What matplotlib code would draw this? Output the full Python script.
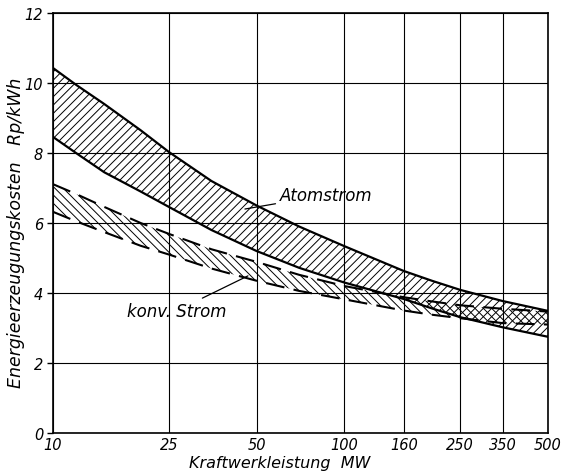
import numpy as np
import matplotlib
matplotlib.use('Agg')
import matplotlib.pyplot as plt

# Kraftwerkleistung in MW und Energieerzeugungskosten in Rp/kWh
leistung = [10, 12, 15, 20, 25, 35, 50, 70, 100, 160, 200, 250, 350, 500]
atom_oben = [10.43, 9.95, 9.4, 8.65, 8.03, 7.2, 6.5, 5.9, 5.34, 4.63, 4.35, 4.09, 3.77, 3.49]
atom_unten = [8.46, 8.0, 7.45, 6.9, 6.46, 5.8, 5.2, 4.72, 4.3, 3.83, 3.56, 3.31, 3.02, 2.75]
konv_oben = [7.11, 6.83, 6.46, 6.0, 5.69, 5.25, 4.89, 4.52, 4.2, 3.88, 3.76, 3.65, 3.55, 3.47]
konv_unten = [6.32, 6.05, 5.74, 5.35, 5.1, 4.7, 4.35, 4.06, 3.82, 3.5, 3.38, 3.28, 3.14, 3.1]

x_ticks = [10, 25, 50, 100, 160, 250, 350, 500]
y_ticks = [0, 2, 4, 6, 8, 10, 12]

plt.rcParams['font.family'] = ['DejaVu Sans']
plt.rcParams['hatch.linewidth'] = 0.7

fig = plt.figure(figsize=(5.66, 4.77), dpi=100)
ax = fig.add_axes([0.0936, 0.0901, 0.8744, 0.8805])
ax.set_xscale('log')

# Atomstrom: schraffiertes Band
ax.fill_between(leistung, atom_unten, atom_oben, facecolor='none',
                edgecolor='k', hatch='////', linewidth=0)
ax.plot(leistung, atom_oben, color='k', lw=1.6)
ax.plot(leistung, atom_unten, color='k', lw=1.6)

# konventioneller Strom: gestricheltes Band
ax.fill_between(leistung, konv_unten, konv_oben, facecolor='none',
                edgecolor='k', hatch='\\\\\\\\', linewidth=0)
ax.plot(leistung, konv_oben, color='k', lw=1.5, dashes=(9, 4.5))
ax.plot(leistung, konv_unten, color='k', lw=1.5, dashes=(9, 4.5))

ax.set_xlim(10, 500)
ax.set_ylim(0, 12)
ax.set_xticks(x_ticks)
ax.set_xticklabels([str(t) for t in x_ticks], style='italic', fontsize=10.5)
ax.minorticks_off()
ax.set_yticks(y_ticks)
ax.set_yticklabels([str(t) for t in y_ticks], style='italic', fontsize=10.5)
ax.tick_params(axis='x', length=0, pad=3)
ax.tick_params(axis='y', length=4, width=1, pad=3)
ax.grid(True, color='k', lw=0.8)
for s in ax.spines.values():
    s.set_linewidth(1.2)

ax.set_xlabel('Kraftwerkleistung  MW', style='italic', fontsize=11.5)
ax.xaxis.set_label_coords(0.459, -0.052)
ax.set_ylabel('Energieerzeugungskosten   Rp/kWh', style='italic', fontsize=12.5)
ax.yaxis.set_label_coords(-0.056, 0.479)

ax.annotate('Atomstrom', xy=(45.6, 6.4), xytext=(60, 6.8), style='italic',
            fontsize=12, va='center', ha='left',
            arrowprops=dict(arrowstyle='-', color='k', lw=0.9, shrinkA=1, shrinkB=0))
ax.annotate('konv. Strom', xy=(46.7, 4.49), xytext=(39.5, 3.5), style='italic',
            fontsize=12, va='center', ha='right',
            arrowprops=dict(arrowstyle='-', color='k', lw=0.9, shrinkA=1, shrinkB=0))

fig.savefig('out.png', dpi=100, facecolor='white')
